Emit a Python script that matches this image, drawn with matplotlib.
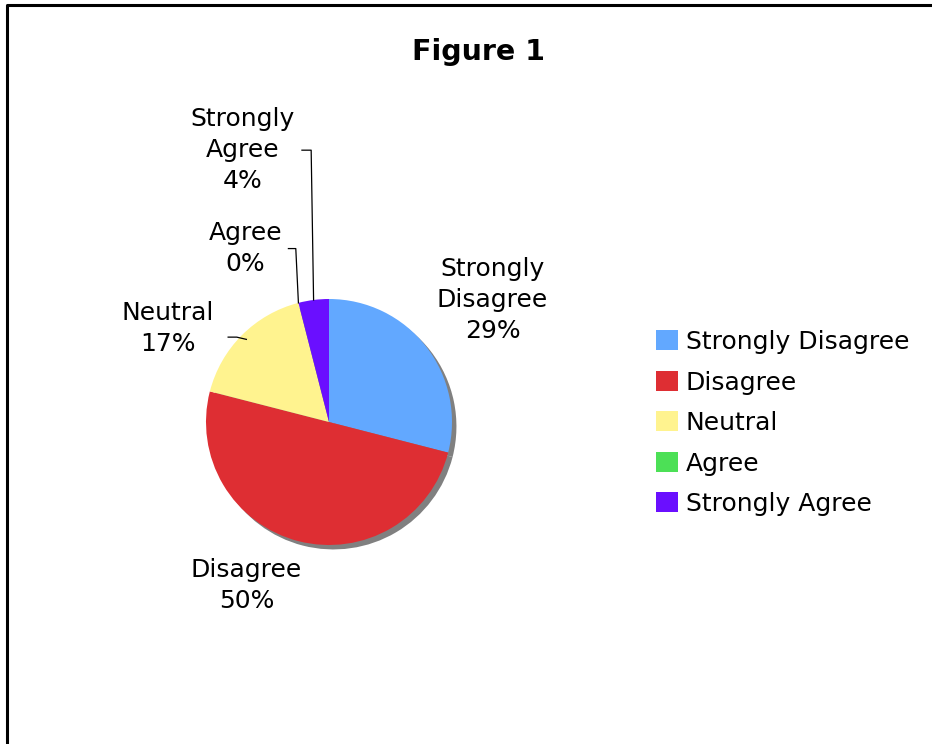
import numpy as np
import matplotlib
matplotlib.use("Agg")
import matplotlib.pyplot as plt
from matplotlib.patches import Patch
from matplotlib.lines import Line2D

categories = ['Strongly Disagree', 'Disagree', 'Neutral', 'Agree', 'Strongly Agree']
label_text = ['Strongly\nDisagree', 'Disagree', 'Neutral', 'Agree', 'Strongly\nAgree']
values = [29, 50, 17, 0, 4]
colors = ['#62a8ff', '#de2e33', '#fff38f', '#4ce056', '#6a0fff']

# where the data labels sit (data units, pie radius = 1)
label_pos = [(1.33, 0.99), (-0.67, -1.33), (-1.31, 0.76), (-0.68, 1.41), (-0.70, 2.21)]

plt.rcParams['font.family'] = ['DejaVu Sans']

W, H = 932, 744
fig = plt.figure(figsize=(W / 100, H / 100), dpi=100)
fig.patch.set_facecolor('white')

# frame of the chart area (right and bottom are cut off in the source)
fig.add_artist(Line2D([6.5 / W, 6.5 / W, 1.05], [-0.05, 1 - 4.5 / H, 1 - 4.5 / H],
                      transform=fig.transFigure, color='black', lw=2.2))

fig.text(479 / W, 1 - 52 / H, 'Figure 1', ha='center', va='center',
         fontsize=20.5, fontweight='bold')

cx, cy, r = 329, 422, 123
ax = fig.add_axes([(cx - r) / W, 1 - (cy + r) / H, 2 * r / W, 2 * r / H])
ax.axis('off')

wedges, _ = ax.pie(values, colors=colors, startangle=90, counterclock=False,
                   radius=1, wedgeprops={'linewidth': 0},
                   shadow={'ox': 0.026, 'oy': -0.026, 'facecolor': '#808080',
                           'edgecolor': 'none', 'alpha': 1})
ax.set_xlim(-1, 1)
ax.set_ylim(-1, 1)
ax.set_aspect('equal')

for i, w in enumerate(wedges):
    pct = '%d%%' % round(values[i])
    lx, ly = label_pos[i]
    ax.text(lx, ly, label_text[i] + '\n' + pct, ha='center', va='center',
            fontsize=18, linespacing=1.36, clip_on=False)

# leader lines for labels away from their slices
def leader(i, x0, y0, x1, rr=1.0, ang=None):
    w = wedges[i]
    if ang is None:
        ang = (w.theta1 + w.theta2) / 2
    ex, ey = rr * np.cos(np.radians(ang)), rr * np.sin(np.radians(ang))
    ax.plot([x0, x1, ex], [y0, y0, ey], color='black', lw=0.9, clip_on=False)

leader(2, -0.82, 0.69, -0.75, rr=0.95)
leader(3, -0.33, 1.41, -0.27, ang=wedges[3].theta1)
leader(4, -0.22, 2.21, -0.145)

handles = [Patch(facecolor=c, edgecolor='none') for c in colors]
fig.legend(handles, categories, loc='upper left', bbox_to_anchor=(656 / W, 1 - 330 / H),
           frameon=False, fontsize=18, handlelength=0.88, handleheight=0.84,
           handletextpad=0.32, labelspacing=0.66, borderpad=0, borderaxespad=0)

fig.savefig('out.png', dpi=100)
